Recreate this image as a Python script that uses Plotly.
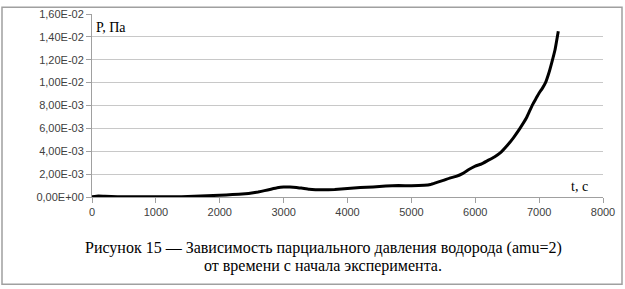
import plotly.graph_objects as go

t_s = [0, 100, 200, 400, 600, 800, 1000, 1200, 1400, 1600, 1800, 2000, 2200, 2400, 2500,
       2600, 2700, 2800, 2900, 3000, 3100, 3200, 3300, 3400, 3500, 3600, 3800, 4000, 4200,
       4400, 4600, 4800, 5000, 5200, 5300, 5400, 5500, 5600, 5700, 5800, 5900, 6000, 6100,
       6200, 6300, 6400, 6500, 6600, 6700, 6800, 6850, 6900, 6950, 7000, 7050, 7100, 7150,
       7200, 7250, 7300]
p_pa = [0.00002, 0.00008, 0.00006, 0.00003, 0.00002, 0.00002, 0.00002, 0.00002, 0.00003,
        0.00006, 0.0001, 0.00016, 0.00021, 0.00028, 0.00034, 0.00043, 0.00056, 0.00068,
        0.0008, 0.00087, 0.00088, 0.00084, 0.00076, 0.00068, 0.00064, 0.00063, 0.00066,
        0.00074, 0.00082, 0.00088, 0.00096, 0.001, 0.00098, 0.00102, 0.0011, 0.00128,
        0.00145, 0.00165, 0.0018, 0.00205, 0.0024, 0.0027, 0.0029, 0.0032, 0.0035, 0.0039,
        0.0045, 0.0052, 0.0060, 0.0069, 0.0075, 0.0081, 0.0086, 0.0091, 0.0095, 0.0100,
        0.0108, 0.0118, 0.0129, 0.0145]

y_ticks = [0, 0.002, 0.004, 0.006, 0.008, 0.010, 0.012, 0.014, 0.016]
y_labels = ["0,00E+00", "2,00E-03", "4,00E-03", "6,00E-03", "8,00E-03",
            "1,00E-02", "1,20E-02", "1,40E-02", "1,60E-02"]
x_ticks = [0, 1000, 2000, 3000, 4000, 5000, 6000, 7000, 8000]
x_labels = [str(v) for v in x_ticks]

caption_lines = ["Рисунок 15 — Зависимость парциального давления водорода (amu=2)",
                 "от времени с начала эксперимента."]

W, H = 625, 289
L, R, T, B = 92, 22, 8, 92
pw, ph = W - L - R, H - T - B

def px(xp):
    return (xp - L) / pw

def py(yp):
    return (H - B - yp) / ph

SERIF = "Times New Roman, Liberation Serif, DejaVu Serif, serif"

fig = go.Figure()
fig.add_trace(go.Scatter(x=t_s, y=p_pa, mode="lines",
                         line=dict(color="black", width=3, shape="spline", smoothing=0.3),
                         showlegend=False, hoverinfo="skip"))

tickfont = dict(family="Liberation Sans", size=11, color="#404040")
annotations = [
    dict(text="P, Па", xref="paper", yref="paper", x=px(94), y=py(22),
         xanchor="left", yanchor="middle", showarrow=False,
         font=dict(family=SERIF, size=14, color="black")),
    dict(text="t, c", xref="paper", yref="paper", x=px(590), y=py(186),
         xanchor="right", yanchor="middle", showarrow=False,
         font=dict(family=SERIF, size=14, color="black")),
]
for line, ypix in zip(caption_lines, [250, 268]):
    annotations.append(dict(text=line, xref="paper", yref="paper", x=px(323), y=py(ypix),
                            xanchor="center", yanchor="middle", showarrow=False,
                            font=dict(family=SERIF, size=16, color="black")))

fig.update_layout(
    width=W, height=H,
    margin=dict(l=L, r=R, t=T, b=B),
    paper_bgcolor="white", plot_bgcolor="white",
    xaxis=dict(range=[0, 8000], tickvals=x_ticks, ticktext=x_labels, showgrid=False,
               zeroline=False, showline=True, linecolor="#a0a0a0", linewidth=1,
               ticks="outside", ticklen=5, tickcolor="#a0a0a0", tickfont=tickfont),
    yaxis=dict(range=[0, 0.016], tickvals=y_ticks, ticktext=y_labels, showgrid=True,
               gridcolor="#c8c8c8", gridwidth=1, zeroline=False, showline=True,
               linecolor="#a0a0a0", linewidth=1, ticks="outside", ticklen=5,
               tickcolor="#a0a0a0", tickfont=tickfont),
    shapes=[dict(type="rect", xref="paper", yref="paper",
                 x0=px(2), x1=px(622), y0=py(287), y1=py(1),
                 line=dict(color="#a0a0a0", width=1.5), fillcolor="rgba(0,0,0,0)",
                 layer="below")],
    annotations=annotations,
)

fig.write_html("out.html")
